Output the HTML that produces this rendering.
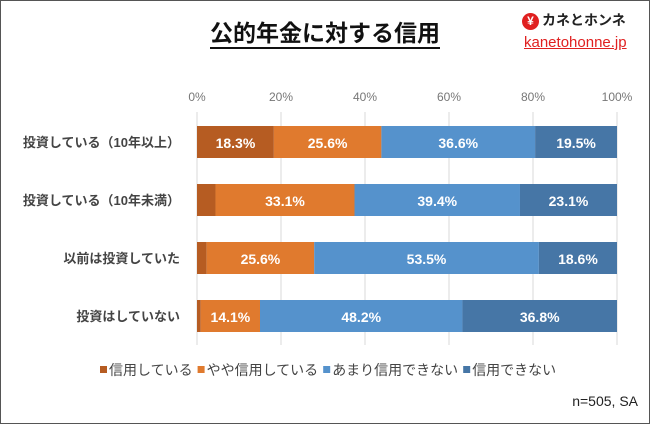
<!DOCTYPE html>
<html><head><meta charset="utf-8"><style>
body{margin:0;width:650px;height:424px;overflow:hidden;background:#fff;font-family:"Liberation Sans","Noto Sans CJK JP",sans-serif}
#frame{position:absolute;left:0;top:0;width:648px;height:422px;border:1px solid #555;box-sizing:content-box}
#title{position:absolute;left:0;width:650px;top:14px;text-align:center;font-size:23px;font-weight:bold;color:#111}
#title span{border-bottom:2px solid #111;padding-bottom:1px}
#logo{position:absolute;left:522px;top:10px;font-size:14px;font-weight:bold;color:#222}
#logo .y{display:inline-block;width:17px;height:17px;border-radius:50%;background:#e02020;color:#fff;text-align:center;line-height:17px;font-size:12px;margin-right:3px}
#url{position:absolute;left:524px;top:34px;font-size:15px;color:#e02020;text-decoration:underline}
</style></head><body>
<div id="frame"></div>
<div id="title"><span>公的年金に対する信用</span></div>
<div id="logo"><span class="y">¥</span>カネとホンネ</div>
<div id="url">kanetohonne.jp</div>
<svg id="chart" width="650" height="424" style="position:absolute;left:0;top:0"></svg>
<script>
const categories=["投資している（10年以上）","投資している（10年未満）","以前は投資していた","投資はしていない"];
const seriesNames=["信用している","やや信用している","あまり信用できない","信用できない"];
const s1=[18.3,4.4,2.3,0.9];
const s2=[25.6,33.1,25.6,14.1];
const s3=[36.6,39.4,53.5,48.2];
const s4=[19.5,23.1,18.6,36.8];
const ticks=[0,20,40,60,80,100];
const colors=["#b65c22","#e07a2e","#5592cc","#4676a6"];
const svg=document.getElementById('chart');const NS="http://www.w3.org/2000/svg";
const x=v=>197+v*4.2;const yc=i=>142+i*58;const bh=32;
function mk(t,a){const e=document.createElementNS(NS,t);for(const k in a)e.setAttribute(k,a[k]);svg.appendChild(e);return e;}
ticks.forEach(t=>{
 const l=mk('line',{x1:x(t),x2:x(t),y1:112,y2:345,stroke:'#d9d9d9','stroke-width':1});
 
 
 const tx=mk('text',{x:x(t),y:101,'text-anchor':'middle','font-size':12,fill:'#777'});tx.textContent=t+'%';
 
 
});
const all=[s1,s2,s3,s4];
categories.forEach((c,i)=>{
 const lb=mk('text',{x:180,y:yc(i)+5,'text-anchor':'end','font-size':13,'font-weight':'bold',fill:'#444'});lb.textContent=c;
 
 
 let acc=0;
 all.forEach((s,k)=>{
  const v=s[i];
  const r=mk('rect',{x:x(acc),y:yc(i)-bh/2,width:x(acc+v)-x(acc),height:bh,fill:colors[k]});
  
  
  if(v>=10){const t=mk('text',{x:x(acc+v/2),y:yc(i)+6,'text-anchor':'middle','font-size':14,'font-weight':'bold',fill:'#fff'});t.textContent=v.toFixed(1)+'%';
   
   }
  acc+=v;
 });
});
let lx=100;
seriesNames.forEach((n,k)=>{
 const r=mk('rect',{x:lx,y:366,width:7,height:7,fill:colors[k]});
 
 
 const t=mk('text',{x:lx+9,y:375,'font-size':14,fill:'#444'});t.textContent=n;
 
 
 lx+=9+t.getComputedTextLength()+5;
});
const n=mk('text',{x:638,y:406,'text-anchor':'end','font-size':14,fill:'#222'});n.textContent='n=505, SA';


</script>
</body></html>
